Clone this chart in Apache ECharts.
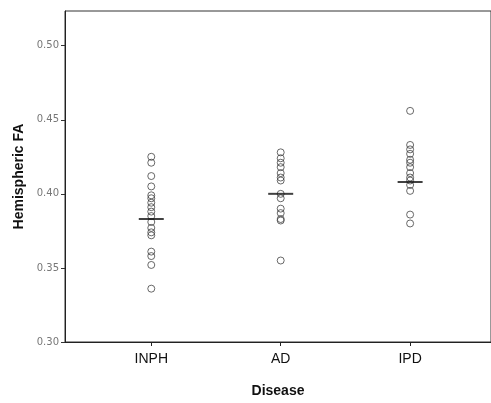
<!DOCTYPE html>
<html>
<head>
<meta charset="utf-8">
<script src="https://cdn.jsdelivr.net/npm/echarts@6/dist/echarts.min.js"></script>
<style>html,body{margin:0;padding:0;background:#fff;}#c{width:491px;height:403px;}</style>
</head>
<body>
<div id="c"></div>
<script>
const categories = ['INPH', 'AD', 'IPD'];
const inphValues = [0.425, 0.421, 0.412, 0.405, 0.399, 0.397, 0.394, 0.391, 0.388, 0.385, 0.381, 0.377, 0.374, 0.372, 0.361, 0.358, 0.352, 0.336];
const adValues = [0.428, 0.424, 0.421, 0.418, 0.414, 0.411, 0.409, 0.400, 0.397, 0.390, 0.387, 0.383, 0.382, 0.355];
const ipdValues = [0.456, 0.433, 0.430, 0.427, 0.423, 0.421, 0.418, 0.414, 0.411, 0.409, 0.406, 0.402, 0.386, 0.380];
const medians = [0.383, 0.400, 0.408];
const yTicks = [0.30, 0.35, 0.40, 0.45, 0.50];
const xTicks = [1, 2, 3];

const groups = [inphValues, adValues, ipdValues];
const pointData = [];
groups.forEach((arr, i) => arr.forEach(v => pointData.push([xTicks[i], v])));
const medianData = medians.map((v, i) => [xTicks[i], v]);

const chart = echarts.init(document.getElementById('c'), null, {renderer: 'canvas'});
chart.setOption({
  animation: false,
  backgroundColor: '#fff',
  grid: {left: 65, top: 11, right: -3, bottom: 53, show: true, borderColor: '#333', borderWidth: 1, backgroundColor: 'transparent'},
  xAxis: {
    type: 'value',
    min: 1/3,
    max: 3.625,
    name: 'Disease',
    nameLocation: 'middle',
    nameGap: 42,
    nameTextStyle: {fontFamily: 'Liberation Sans', fontSize: 14, fontWeight: 'bold', color: '#111'},
    axisLine: {show: true, lineStyle: {color: '#222', width: 1}},
    axisTick: {show: true, length: 4, inside: false, customValues: xTicks, lineStyle: {color: '#222'}},
    axisLabel: {customValues: xTicks, formatter: v => categories[Math.round(v) - 1] || '', margin: 10,
      fontFamily: 'Liberation Sans', fontSize: 14, color: '#111'},
    splitLine: {show: false}
  },
  yAxis: {
    type: 'value',
    min: 0.30,
    max: 0.5234,
    name: 'Hemispheric FA',
    nameLocation: 'middle',
    nameGap: 35,
    nameTextStyle: {fontFamily: 'Liberation Sans', fontSize: 14, fontWeight: 'bold', color: '#111'},
    axisLine: {show: true, lineStyle: {color: '#222', width: 1}},
    axisTick: {show: true, length: 4, customValues: yTicks, lineStyle: {color: '#333'}},
    axisLabel: {customValues: yTicks, formatter: v => v.toFixed(2), margin: 6,
      fontFamily: 'DejaVu Sans', fontSize: 10, color: '#777'},
    splitLine: {show: false}
  },
  series: [
    {
      type: 'scatter',
      data: pointData,
      symbol: 'circle',
      symbolSize: 7,
      itemStyle: {color: 'rgba(255,255,255,0)', borderColor: '#444', borderWidth: 1}
    },
    {
      type: 'scatter',
      data: medianData,
      symbol: 'rect',
      symbolSize: [25, 2],
      itemStyle: {color: '#111'},
      z: 5
    }
  ]
});
</script>
</body>
</html>
